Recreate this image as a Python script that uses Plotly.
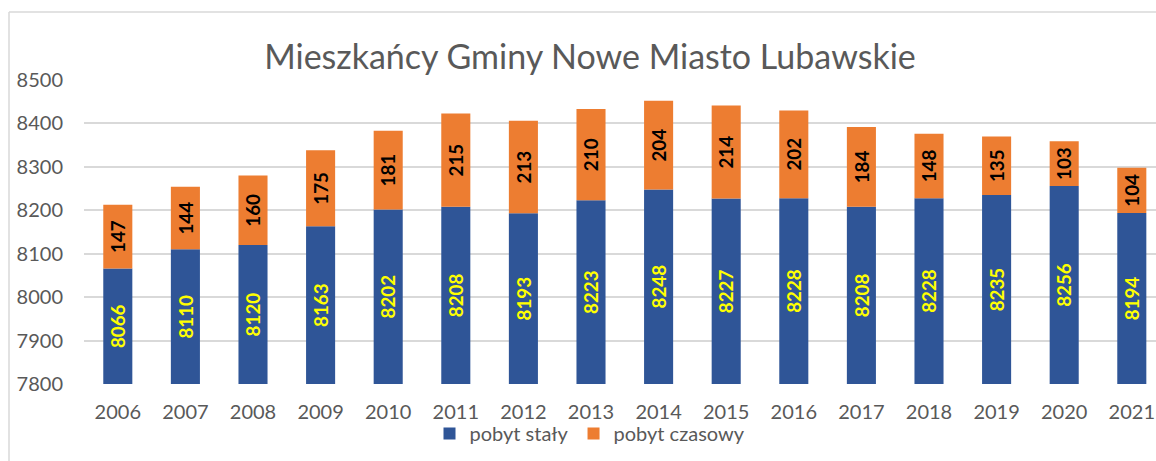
import plotly.graph_objects as go

years = ["2006", "2007", "2008", "2009", "2010", "2011", "2012", "2013",
         "2014", "2015", "2016", "2017", "2018", "2019", "2020", "2021"]
pobyt_staly = [8066, 8110, 8120, 8163, 8202, 8208, 8193, 8223,
               8248, 8227, 8228, 8208, 8228, 8235, 8256, 8194]
pobyt_czasowy = [147, 144, 160, 175, 181, 215, 213, 210,
                 204, 214, 202, 184, 148, 135, 103, 104]
y_ticks = [7800, 7900, 8000, 8100, 8200, 8300, 8400, 8500]
y_min, y_max = 7800, 8500

W, H = 1156, 461
L, R, T, B = 84, 0, 80, 77
gray = "#595959"
font_family = "Lato, 'Open Sans', sans-serif"

fig = go.Figure()
# bars start at the axis minimum so the inside labels are centred in the visible part
fig.add_trace(go.Bar(
    x=years, y=[v - y_min for v in pobyt_staly], base=y_min, name="pobyt stały",
    marker=dict(color="#2F5597", line=dict(width=0)),
    text=[str(v) for v in pobyt_staly], textposition="inside",
    insidetextanchor="middle", textangle=-90,
    textfont=dict(color="#FFFF00", size=22, family=font_family, weight="bold"),
    customdata=pobyt_staly, hovertemplate="%{x}: %{customdata}<extra>pobyt stały</extra>",
))
fig.add_trace(go.Bar(
    x=years, y=pobyt_czasowy, base=pobyt_staly, name="pobyt czasowy",
    marker=dict(color="#ED7D31", line=dict(width=0)),
    text=[str(v) for v in pobyt_czasowy], textposition="inside",
    insidetextanchor="middle", textangle=-90,
    textfont=dict(color="#000000", size=22, family=font_family, weight="bold"),
))

plot_w = W - L - R
plot_h = H - T - B

fig.update_layout(
    width=W, height=H, barmode="overlay", bargap=0.57,
    margin=dict(l=L, r=R, t=T, b=B, autoexpand=False),
    paper_bgcolor="white", plot_bgcolor="white",
    font=dict(family=font_family, color=gray),
    title=dict(text="Mieszkańcy Gminy Nowe Miasto Lubawskie",
               x=590 / W, xanchor="center", y=1 - 57 / H, yanchor="middle",
               font=dict(size=34, color=gray, family=font_family)),
    xaxis=dict(type="category", range=[-0.5, -0.5 + plot_w / 67.6],
               showgrid=False, showline=False, zeroline=False,
               ticks="", ticklabelstandoff=14,
               tickfont=dict(size=20, color=gray)),
    yaxis=dict(range=[y_min, y_max], tickvals=y_ticks,
               showgrid=True, gridcolor="#D9D9D9", gridwidth=1.5,
               zeroline=False, showline=False, ticks="",
               ticklabelstandoff=20,
               tickfont=dict(size=20, color=gray)),
    legend=dict(orientation="h", x=(590 - L) / plot_w, xanchor="center",
                y=-(414 - (T + plot_h)) / plot_h, yanchor="top",
                font=dict(size=20, color=gray), traceorder="normal",
                itemwidth=30, bgcolor="rgba(0,0,0,0)"),
    showlegend=True,
)

# chart-area border (top and left edges visible)
fig.add_shape(type="line", xref="paper", yref="paper",
              x0=(9 - L) / plot_w, x1=(W + 5 - L) / plot_w,
              y0=1 + (T - 12) / plot_h, y1=1 + (T - 12) / plot_h,
              line=dict(color="#D9D9D9", width=1.5))
fig.add_shape(type="line", xref="paper", yref="paper",
              x0=(9 - L) / plot_w, x1=(9 - L) / plot_w,
              y0=1 + (T - 12) / plot_h, y1=-(H + 5 - T - plot_h) / plot_h,
              line=dict(color="#D9D9D9", width=1.5))

fig.write_html("out.html", config={"displayModeBar": False},
               post_script="document.body.style.margin='0';document.body.style.overflow='hidden';")
